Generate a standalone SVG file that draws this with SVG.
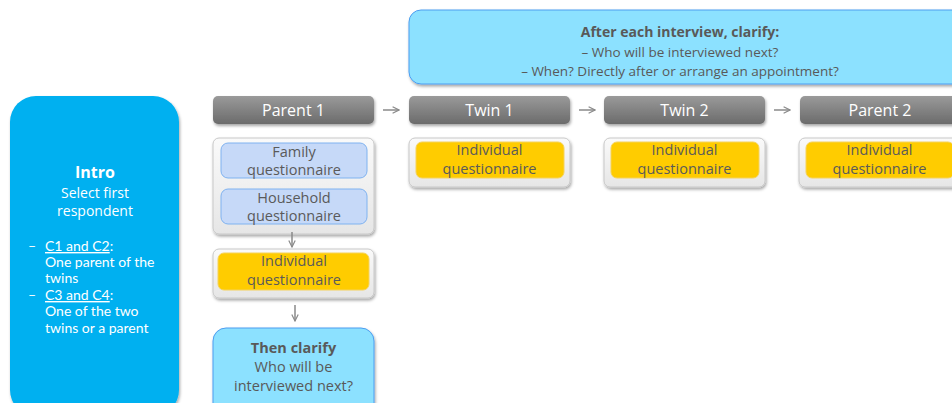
<svg xmlns="http://www.w3.org/2000/svg" width="952" height="403" viewBox="0 0 952 403">
<defs>
<linearGradient id="hdr" x1="0" y1="0" x2="0" y2="1">
<stop offset="0" stop-color="#9a9a9a"/><stop offset="1" stop-color="#6b6b6b"/>
</linearGradient>
<linearGradient id="cont" x1="0" y1="0" x2="0" y2="1">
<stop offset="0" stop-color="#fafafa"/><stop offset="1" stop-color="#e6e6e6"/>
</linearGradient>
<filter id="sh" x="-10%" y="-10%" width="125%" height="130%">
<feDropShadow dx="1" dy="2" stdDeviation="1.5" flood-color="#000" flood-opacity="0.35"/>
</filter>
<marker id="ah" viewBox="0 0 10 10" refX="9" refY="5" markerWidth="8" markerHeight="8" markerUnits="userSpaceOnUse" orient="auto">
<path d="M1,1 L9,5 L1,9" fill="none" stroke="#8a8a8a" stroke-width="1.5"/>
</marker>
</defs>
<style>
text{font-family:"Open Sans","Noto Sans","Liberation Sans",sans-serif;}
.hdr{fill:url(#hdr);filter:url(#sh);}
.hdrt{fill:#fff;font-size:16px;text-anchor:middle;}
.cont{fill:url(#cont);stroke:#c8c8c8;stroke-width:1;filter:url(#sh);}
.yel{fill:#ffcc00;stroke:#f5d25a;stroke-width:1;}
.blu{fill:#c6d9f8;stroke:#7fb2f0;stroke-width:1;}
.qt{fill:#5a5a5a;font-size:14.5px;text-anchor:middle;}
.call{fill:#8ce1ff;stroke:#4c9df0;stroke-width:1;filter:url(#sh);}
.ct{fill:#595959;font-size:13.5px;text-anchor:middle;}
.cb{font-weight:bold;}
.conn{stroke:#8a8a8a;stroke-width:1.5;fill:none;marker-end:url(#ah);}
.it{fill:#fff;font-size:14px;font-family:Lato,"Open Sans",sans-serif;}
</style>

<g id="intro">
<rect x="10" y="96" width="169" height="320" rx="26" fill="#00b0f0" filter="url(#sh)"/>
<text x="95" y="178" style="fill:#fff;font-size:16px;font-weight:bold" text-anchor="middle">Intro</text>
<text x="95" y="198" style="fill:#fff;font-size:14px" text-anchor="middle">Select first</text>
<text x="95" y="216" style="fill:#fff;font-size:14px" text-anchor="middle">respondent</text>
<text x="28" y="251" class="it">–</text>
<text x="45" y="251" class="it"><tspan text-decoration="underline">C1 and C2</tspan>:</text>
<text x="45" y="267" class="it">One parent of the</text>
<text x="45" y="283" class="it">twins</text>
<text x="28" y="300" class="it">–</text>
<text x="45" y="300" class="it"><tspan text-decoration="underline">C3 and C4</tspan>:</text>
<text x="45" y="316" class="it">One of the two</text>
<text x="45" y="333" class="it">twins or a parent</text>
</g>

<g id="callout">
<rect x="409" y="10" width="560" height="74" rx="12" class="call"/>
<text x="680" y="37" class="ct cb" style="font-size:14px">After each interview, clarify:</text>
<text x="680" y="57" class="ct">–  Who will be interviewed next?</text>
<text x="680" y="76" class="ct">–  When? Directly after or arrange an appointment?</text>
</g>

<g id="parent1">
<rect x="213" y="96" width="161" height="28" rx="5" class="hdr"/>
<text x="293.5" y="116" class="hdrt">Parent 1</text>
</g>
<g id="twin1">
<rect x="409" y="96" width="161" height="28" rx="5" class="hdr"/>
<text x="489.5" y="116" class="hdrt">Twin 1</text>
</g>
<g id="twin2">
<rect x="604" y="96" width="161" height="28" rx="5" class="hdr"/>
<text x="684.5" y="116" class="hdrt">Twin 2</text>
</g>
<g id="parent2">
<rect x="800" y="96" width="161" height="28" rx="5" class="hdr"/>
<text x="880" y="116" class="hdrt">Parent 2</text>
</g>

<g id="p1-household">
<rect x="213" y="138" width="161" height="96" rx="6" class="cont"/>
<rect x="221" y="143" width="146" height="35" rx="7" class="blu"/>
<text x="294" y="157" class="qt">Family</text>
<text x="294" y="175" class="qt">questionnaire</text>
<rect x="221" y="189" width="146" height="35" rx="7" class="blu"/>
<text x="294" y="203" class="qt">Household</text>
<text x="294" y="221" class="qt">questionnaire</text>
</g>

<g id="p1-individual">
<rect x="213" y="249" width="161" height="49" rx="6" class="cont"/>
<rect x="218" y="253" width="151" height="37" rx="6" class="yel"/>
<text x="294" y="266" class="qt">Individual</text>
<text x="294" y="285" class="qt">questionnaire</text>
</g>

<g id="t1-individual">
<rect x="409" y="138" width="161" height="49" rx="6" class="cont"/>
<rect x="416" y="142" width="148" height="36" rx="6" class="yel"/>
<text x="489.5" y="155" class="qt">Individual</text>
<text x="489.5" y="174" class="qt">questionnaire</text>
</g>
<g id="t2-individual">
<rect x="604" y="138" width="161" height="49" rx="6" class="cont"/>
<rect x="611" y="142" width="148" height="36" rx="6" class="yel"/>
<text x="684.5" y="155" class="qt">Individual</text>
<text x="684.5" y="174" class="qt">questionnaire</text>
</g>
<g id="p2-individual">
<rect x="799" y="138" width="161" height="49" rx="6" class="cont"/>
<rect x="806" y="142" width="148" height="36" rx="6" class="yel"/>
<text x="879.5" y="155" class="qt">Individual</text>
<text x="879.5" y="174" class="qt">questionnaire</text>
</g>

<g id="then-clarify">
<rect x="213" y="328" width="161" height="90" rx="13" class="call"/>
<text x="293.5" y="353" class="ct cb" style="font-size:14.5px">Then clarify</text>
<text x="293.5" y="372" class="ct" style="font-size:14.5px">Who will be</text>
<text x="293.5" y="391" class="ct" style="font-size:14.5px">interviewed next?</text>
</g>

<g id="connectors">
<line x1="383" y1="110" x2="399" y2="110" class="conn"/>
<line x1="579" y1="110" x2="595" y2="110" class="conn"/>
<line x1="774" y1="110" x2="790" y2="110" class="conn"/>
<line x1="292" y1="232" x2="292" y2="247" class="conn"/>
<line x1="295" y1="305" x2="295" y2="321" class="conn"/>
</g>
</svg>
